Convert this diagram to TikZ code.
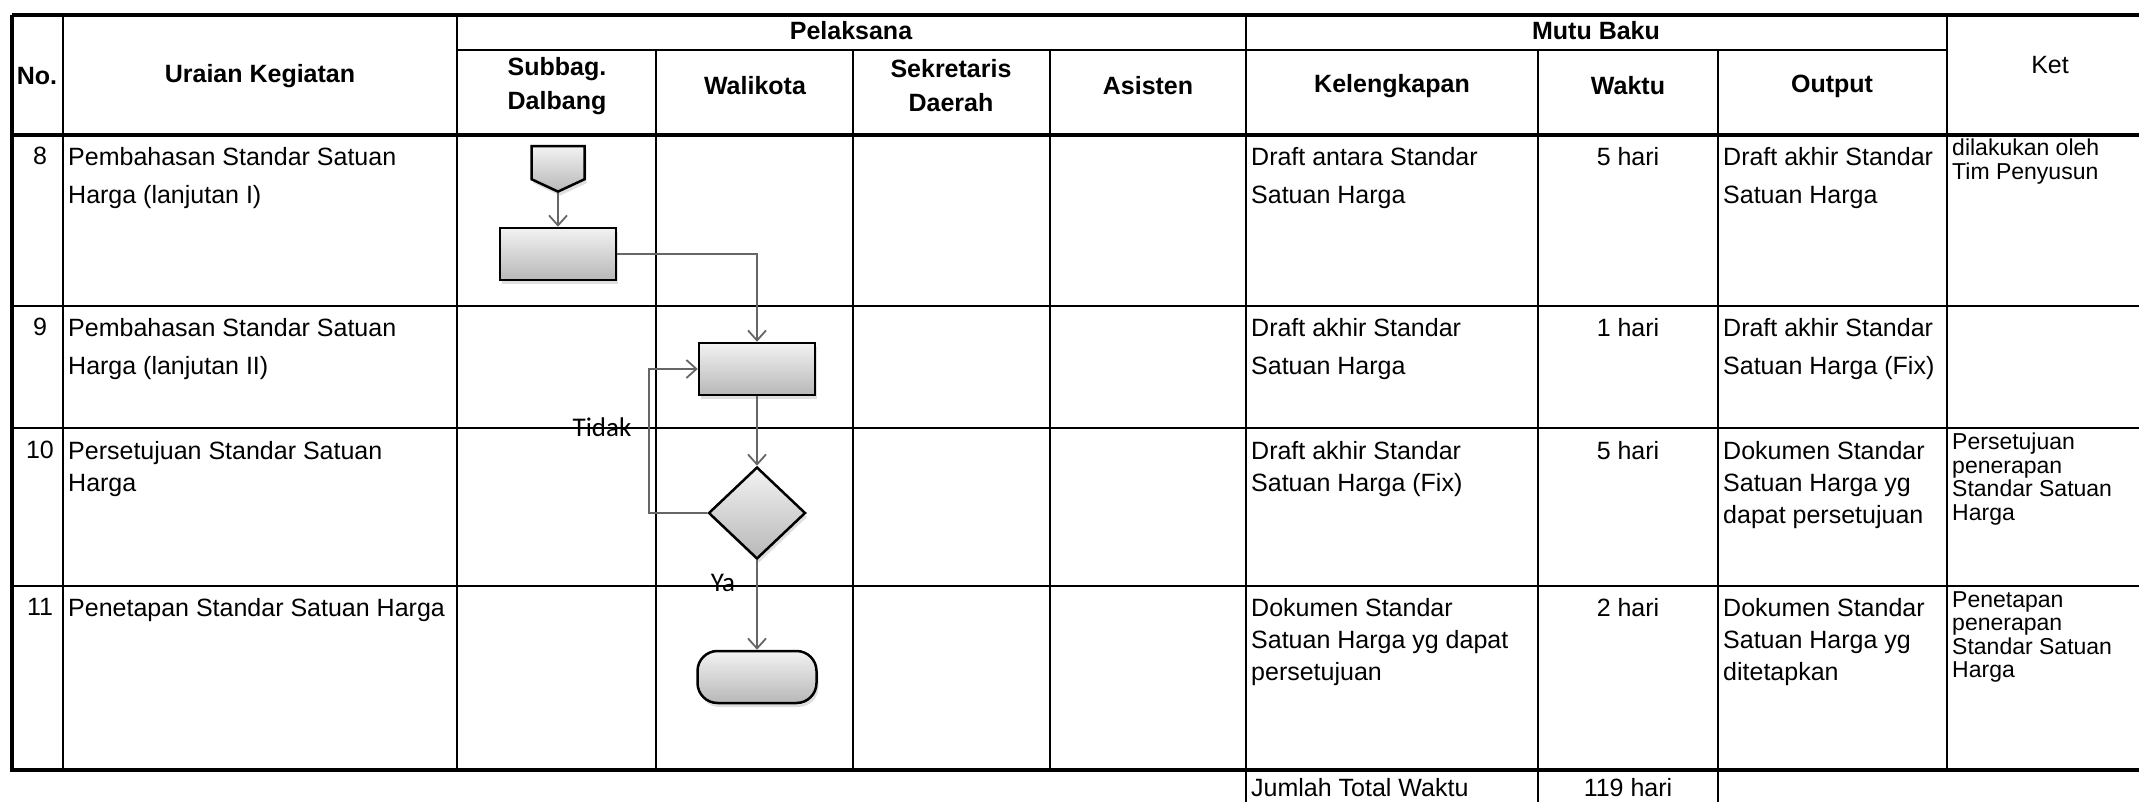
\documentclass[tikz,border=0pt]{standalone}
\usepackage{fontspec}
\setmainfont{Liberation Sans}
\newfontfamily\lblfont{Carlito}
\usetikzlibrary{shapes.geometric,shapes.symbols,arrows.meta,shadows}

\newcommand\cellfont{\fontsize{25}{38}\selectfont}
\newcommand\tightfont{\fontsize{25}{32}\selectfont}
\newcommand\ketfont{\fontsize{23}{23.5}\selectfont}
\newcommand\headfont{\fontsize{25}{34}\selectfont}

\tikzset{
  frame/.style={line width=3.5pt},
  gridline/.style={line width=2pt},
  head/.style={inner sep=0pt,align=center,font=\headfont\bfseries},
  cell/.style={anchor=north west,inner sep=0pt,align=left,font=\cellfont},
  tightcell/.style={cell,font=\tightfont},
  ketcell/.style={anchor=north west,inner sep=0pt,align=left,font=\ketfont},
  num/.style={anchor=north,inner sep=0pt,font=\cellfont},
  lbl/.style={inner sep=0pt,font=\lblfont\fontsize{27}{30}\selectfont},
  symbol/.style={draw,line width=2.5pt,top color=black!5,bottom color=black!28,
    drop shadow={opacity=0.25,shadow xshift=2pt,shadow yshift=-4pt}},
  procbox/.style={symbol,rectangle,minimum width=116pt,minimum height=52pt},
  decbox/.style={symbol,diamond,minimum width=97pt,minimum height=92pt,inner sep=0pt},
  endbox/.style={symbol,rectangle,rounded corners=20pt,minimum width=119pt,minimum height=52pt},
  offpage/.style={symbol,signal,signal to=south,signal pointer angle=130,
    minimum width=53pt,minimum height=33pt,inner sep=0pt},
  arrowline/.style={->,>={Straight Barb[length=10pt,width=18pt]},draw=black!60,line width=1.8pt}
}

\begin{document}
\begin{tikzpicture}[x=1pt,y=-1pt]
  \useasboundingbox (0,0) rectangle (2139,802);

  % table lines
  \draw[frame] (12,15) -- (2139,15);
  \draw[frame] (12,15) -- (12,770) -- (2139,770);
  \draw[frame] (12,135) -- (2139,135);
  \draw[gridline] (457,50) -- (1947,50);
  \foreach \y in {306,428,586}
    \draw[gridline] (12,\y) -- (2139,\y);
  \foreach \x in {63,457,1246,1947}
    \draw[gridline] (\x,15) -- (\x,770);
  \foreach \x in {656,853,1050,1538,1718}
    \draw[gridline] (\x,50) -- (\x,770);
  \foreach \x in {1246,1538,1718}
    \draw[gridline] (\x,770) -- (\x,802);

  % header
  \node[head] (hno) at (37,76) {No.};
  \node[head] (hurai) at (260,76) {Uraian Kegiatan};
  \node[head] (hpel) at (851,31) {Pelaksana};
  \node[head] (hsub) at (557,86) {Subbag.\\Dalbang};
  \node[head] (hwali) at (755,86) {Walikota};
  \node[head] (hsek) at (951,86) {Sekretaris\\Daerah};
  \node[head] (hasis) at (1148,86) {Asisten};
  \node[head] (hmutu) at (1596,31) {Mutu Baku};
  \node[head] (hkel) at (1392,86) {Kelengkapan};
  \node[head] (hwaktu) at (1628,86) {Waktu};
  \node[head] (hout) at (1832,86) {Output};
  \node[head,font=\headfont] (hket) at (2050,65) {Ket};

  % row 8
  \node[num] (n8) at (40,147) {8};
  \node[cell] (u8) at (68,147) {Pembahasan Standar Satuan\\Harga (lanjutan I)};
  \node[cell] (k8) at (1251,147) {Draft antara Standar\\Satuan Harga};
  \node[num] (w8) at (1628,147) {5 hari};
  \node[cell] (o8) at (1723,147) {Draft akhir Standar\\Satuan Harga};
  \node[ketcell] (c8) at (1952,139) {dilakukan oleh\\Tim Penyusun};

  % row 9
  \node[num] (n9) at (40,318) {9};
  \node[cell] (u9) at (68,318) {Pembahasan Standar Satuan\\Harga (lanjutan II)};
  \node[cell] (k9) at (1251,318) {Draft akhir Standar\\Satuan Harga};
  \node[num] (w9) at (1628,318) {1 hari};
  \node[cell] (o9) at (1723,318) {Draft akhir Standar\\Satuan Harga (Fix)};

  % row 10
  \node[num] (n10) at (40,441) {10};
  \node[tightcell] (u10) at (68,441) {Persetujuan Standar Satuan\\Harga};
  \node[tightcell] (k10) at (1251,441) {Draft akhir Standar\\Satuan Harga (Fix)};
  \node[num] (w10) at (1628,441) {5 hari};
  \node[tightcell] (o10) at (1723,441) {Dokumen Standar\\Satuan Harga yg\\dapat persetujuan};
  \node[ketcell] (c10) at (1952,433) {Persetujuan\\penerapan\\Standar Satuan\\Harga};

  % row 11
  \node[num] (n11) at (40,598) {11};
  \node[tightcell] (u11) at (68,598) {Penetapan Standar Satuan Harga};
  \node[tightcell] (k11) at (1251,598) {Dokumen Standar\\Satuan Harga yg dapat\\persetujuan};
  \node[num] (w11) at (1628,598) {2 hari};
  \node[tightcell] (o11) at (1723,598) {Dokumen Standar\\Satuan Harga yg\\ditetapkan};
  \node[ketcell] (c11) at (1952,591) {Penetapan\\penerapan\\Standar Satuan\\Harga};

  % total
  \node[cell] (jml) at (1251,778) {Jumlah Total Waktu};
  \node[num] (wjml) at (1628,778) {119 hari};

  % flow
  \node[offpage,anchor=north] (sbin) at (558,145) {};
  \node[procbox] (sbproc) at (558,254) {};
  \node[procbox] (wkproc) at (757,369) {};
  \node[decbox] (wkdec) at (757,513) {};
  \node[endbox] (wkend) at (757,677) {};
  \coordinate (back) at (649,513);
  \node[lbl] (tidak) at (602,427) {Tidak};
  \node[lbl] (ya) at (723,583) {Ya};
  \begin{scope}[arrowline]
    \draw (sbin) -- (sbproc);
    \draw (sbproc) -| (wkproc);
    \draw (wkproc) -- (wkdec);
    \draw (wkdec) -- (back) |- (wkproc);
    \draw (wkdec) -- (wkend);
  \end{scope}
\end{tikzpicture}
\end{document}
